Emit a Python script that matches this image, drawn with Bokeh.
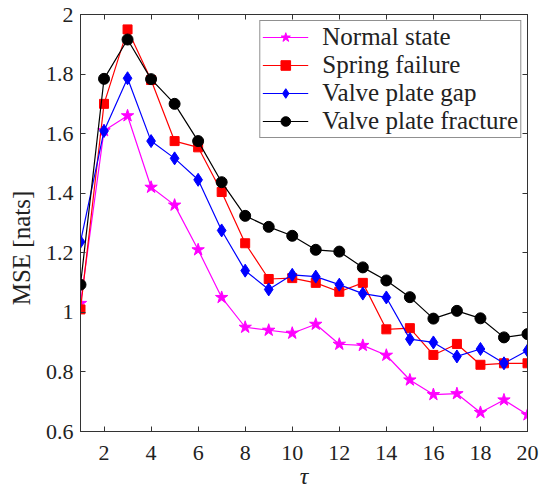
from bokeh.plotting import figure
from bokeh.models import LinearAxis, FixedTicker, Legend, LegendItem, Range1d
from bokeh.embed import file_html
from bokeh.resources import INLINE

tau = list(range(1, 21))
normal = [1.03, 1.61, 1.66, 1.42, 1.36, 1.21, 1.05, 0.95, 0.94, 0.93,
          0.96, 0.893, 0.889, 0.856, 0.773, 0.724, 0.727, 0.664, 0.706, 0.656]
spring = [1.01, 1.70, 1.95, 1.78, 1.575, 1.554, 1.404, 1.232, 1.112, 1.115,
          1.099, 1.069, 1.099, 0.943, 0.947, 0.857, 0.894, 0.824, 0.829, 0.829]
gap = [1.237, 1.609, 1.786, 1.575, 1.517, 1.445, 1.275, 1.14, 1.077, 1.126,
       1.12, 1.093, 1.063, 1.05, 0.91, 0.899, 0.852, 0.877, 0.829, 0.872]
fracture = [1.093, 1.784, 1.916, 1.783, 1.70, 1.575, 1.437, 1.324, 1.287, 1.257,
            1.21, 1.204, 1.151, 1.107, 1.051, 0.979, 1.005, 0.98, 0.916, 0.927]

series_names = ["Normal state", "Spring failure", "Valve plate gap", "Valve plate fracture"]
x_ticks = [2, 4, 6, 8, 10, 12, 14, 16, 18, 20]
y_ticks = [0.6, 0.8, 1.0, 1.2, 1.4, 1.6, 1.8, 2.0]
y_tick_labels = ["0.6", "0.8", "1", "1.2", "1.4", "1.6", "1.8", "2"]
x_label = "τ"
y_label = "MSE [nats]"

FONT = "Liberation Serif"
TXT = "#222222"
AX = "#333333"

p = figure(width=557, height=491, output_backend="svg", toolbar_location=None,
           x_range=Range1d(1, 20), y_range=Range1d(0.6, 2.0),
           min_border_left=80, min_border_right=30, min_border_top=14, min_border_bottom=56)
p.grid.visible = False
p.outline_line_color = AX
p.background_fill_color = "white"
p.border_fill_color = "white"

for ax in (p.xaxis[0], p.yaxis[0]):
    ax.major_tick_in = 5
    ax.major_tick_out = 0
    ax.minor_tick_line_color = None
    ax.axis_line_color = AX
    ax.major_tick_line_color = AX
    ax.major_label_text_font = FONT
    ax.major_label_text_font_size = "22px"
    ax.major_label_text_color = TXT
    ax.axis_label_text_font = FONT
    ax.axis_label_text_font_size = "25px"
    ax.axis_label_text_color = TXT
    ax.axis_label_text_font_style = "normal"

p.xaxis[0].ticker = FixedTicker(ticks=x_ticks)
p.yaxis[0].ticker = FixedTicker(ticks=y_ticks)
p.yaxis[0].major_label_overrides = {t: l for t, l in zip(y_ticks, y_tick_labels)}
p.xaxis[0].major_label_standoff = 14
p.yaxis[0].major_label_standoff = 7
p.xaxis[0].axis_label = x_label
p.xaxis[0].axis_label_standoff = 0
p.xaxis[0].axis_label_text_font_size = "24px"
p.xaxis[0].axis_label_text_font_style = "italic"
p.yaxis[0].axis_label = y_label + "\u2003\u2003"
p.yaxis[0].axis_label_standoff = 8

# mirrored ticks on top and right (labels hidden)
top = LinearAxis(ticker=FixedTicker(ticks=x_ticks))
right = LinearAxis(ticker=FixedTicker(ticks=y_ticks))
for ax in (top, right):
    ax.major_tick_in = 5
    ax.major_tick_out = 0
    ax.minor_tick_line_color = None
    ax.axis_line_color = AX
    ax.major_tick_line_color = AX
    ax.major_label_text_font_size = "8px"
    ax.major_label_text_color = None
    ax.major_label_standoff = 0
p.add_layout(top, "above")
p.add_layout(right, "right")

colors = ["#ff00ff", "#ff0000", "#0000ff", "#000000"]
datas = [normal, spring, gap, fracture]
markers = ["star", "square", "diamond", "circle"]
sizes = [13, 9, 13, 11]
items = []
for name, d, c, m, s in zip(series_names, datas, colors, markers, sizes):
    lr = p.line(tau, d, line_color=c, line_width=1.2)
    mr = p.scatter(tau, d, marker=m, size=s, fill_color=c, line_color=c)
    items.append(LegendItem(label=name, renderers=[lr, mr]))

legend = Legend(items=items, location="top_right", margin=6, padding=2, spacing=0,
                glyph_width=46, glyph_height=24, label_height=24, label_standoff=14,
                label_text_font=FONT, label_text_font_size="25px", label_text_color=TXT,
                label_text_baseline="middle",
                border_line_color="#222222", border_line_width=1,
                background_fill_color="white", background_fill_alpha=1)
p.add_layout(legend, "center")

open("out.html", "w").write(file_html(p, INLINE))
